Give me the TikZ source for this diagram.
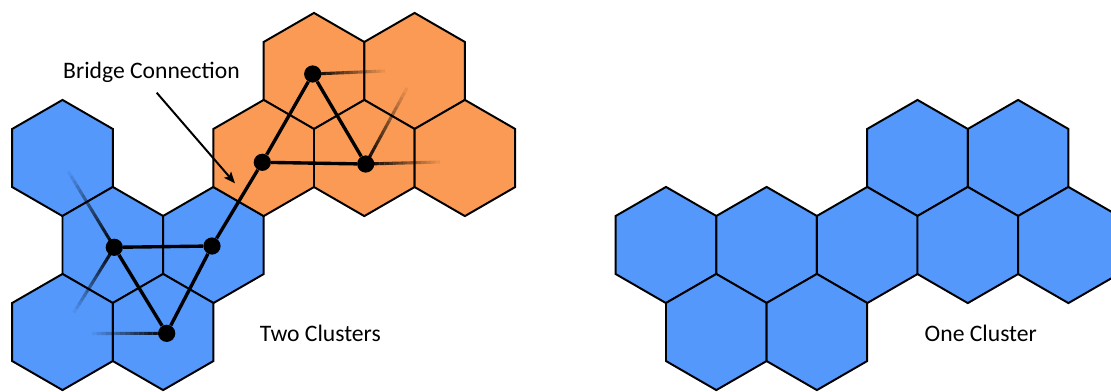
\documentclass[tikz,border=0pt]{standalone}
\usepackage{fontspec}
\setmainfont{Carlito}
\usetikzlibrary{arrows.meta, calc}
\definecolor{cBlue}{RGB}{84,152,252}
\definecolor{cOrange}{RGB}{250,154,84}
\tikzset{
	hexcell/.style={draw=black, line width=1.4pt, line join=miter},
	site/.style={circle, fill=black, inner sep=0pt, minimum size=0.43cm},
	bond/.style={line width=2.4pt},
	stub/.style={line width=2.2pt, line cap=butt},
	pointer/.style={-{Stealth[length=8pt, width=6.5pt, inset=1.5pt]}, line width=1.4pt},
	caption/.style={font=\fontsize{16.8}{20}\selectfont, anchor=base, inner sep=0pt},
}
\newcommand{\hexR}{58.08}
% fading bond: from a site towards a coordinate
\newcommand{\fadestub}[2]{%
	\foreach \i [evaluate=\i as \op using {1-\i/16}] in {0,...,15}
		\draw[stub, opacity=\op] ($(#1)!{\i/16}!(#2)$) -- ($(#1)!{(\i+1)/16}!(#2)$);}

\begin{document}
\begin{tikzpicture}[x=0.025cm, y=-0.025cm]
	\clip (0,0) rectangle (1111,391);
	% left picture: blue cluster
	\foreach \cx/\cy in {62.5/158, 112.8/245, 213.4/245, 62.5/332, 163.1/332}
		\draw[hexcell, fill=cBlue] (\cx,\cy) +(90:\hexR) -- +(150:\hexR) -- +(210:\hexR) -- +(270:\hexR) -- +(330:\hexR) -- +(30:\hexR) -- cycle;
	% left picture: orange cluster
	\foreach \cx/\cy in {314/71, 414.6/71, 263.7/158, 364.3/158, 464.9/158}
		\draw[hexcell, fill=cOrange] (\cx,\cy) +(90:\hexR) -- +(150:\hexR) -- +(210:\hexR) -- +(270:\hexR) -- +(330:\hexR) -- +(30:\hexR) -- cycle;
	% right picture: one cluster
	\foreach \cx/\cy in {917.5/158, 1018.1/158, 666/245, 766.6/245, 867.2/245, 967.8/245, 1068.4/245, 716.3/332, 816.9/332}
		\draw[hexcell, fill=cBlue] (\cx,\cy) +(90:\hexR) -- +(150:\hexR) -- +(210:\hexR) -- +(270:\hexR) -- +(330:\hexR) -- +(30:\hexR) -- cycle;

	% sites
	\node[site] (otop) at (312.7,74) {};
	\node[site] (oleft) at (262.3,162.3) {};
	\node[site] (oright) at (365.7,164) {};
	\node[site] (bleft) at (114.3,247.3) {};
	\node[site] (bright) at (212,246) {};
	\node[site] (bbot) at (166.7,333.3) {};

	% bonds
	\draw[bond] (otop) -- (oleft);
	\draw[bond] (otop) -- (oright);
	\draw[bond] (oleft) -- (oright);
	\draw[bond] (bleft) -- (bright);
	\draw[bond] (bleft) -- (bbot);
	\draw[bond] (bright) -- (bbot);
	\draw[bond] (bright) -- (oleft);

	% loose ends
	\coordinate (e1) at (385,71);
	\coordinate (e2) at (407,88);
	\coordinate (e3) at (440,162);
	\coordinate (e4) at (68.3,171.5);
	\coordinate (e5) at (74,312.5);
	\coordinate (e6) at (92,333.5);
	\fadestub{otop}{e1}
	\fadestub{oright}{e2}
	\fadestub{oright}{e3}
	\fadestub{bleft}{e4}
	\fadestub{bleft}{e5}
	\fadestub{bbot}{e6}

	% labels
	\node[caption] (bridgelbl) at (151.5,78.3) {Bridge Connection};
	\coordinate (bridgetail) at (156.7,92.7);
	\coordinate (bridgetip) at (235,183.3);
	\draw[pointer] (bridgetail) -- (bridgetip);
	\node[caption] (twolbl) at (320.4,341) {Two Clusters};
	\node[caption] (onelbl) at (980.8,341) {One Cluster};
\end{tikzpicture}
\end{document}
